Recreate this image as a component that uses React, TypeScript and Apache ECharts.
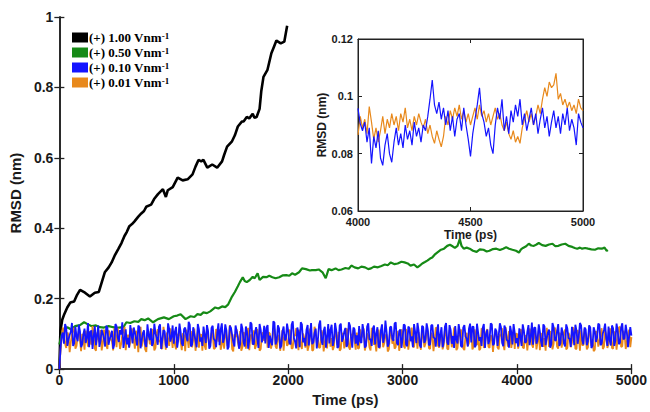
import React, { useEffect, useRef } from "react";
import * as echarts from "echarts";

// ---- data ----
const legendNames = ["(+) 1.00 Vnm", "(+) 0.50 Vnm", "(+) 0.10 Vnm", "(+) 0.01 Vnm"];

const blackT = [0, 9, 25, 43, 69, 95, 129, 155, 181, 224, 267, 310, 345, 371, 397, 431, 457, 483, 517, 543, 569, 590, 612, 635, 655, 690, 716, 740, 759, 802, 828, 862, 905, 931, 948, 991, 1034, 1078, 1121, 1164, 1190, 1216, 1240, 1259, 1293, 1336, 1379, 1422, 1440, 1466, 1509, 1534, 1560, 1595, 1610, 1638, 1660, 1690, 1705, 1724, 1750, 1765, 1784, 1819, 1853, 1875, 1897, 1935, 1966, 1980, 1991];
const blackV = [0, 0.108, 0.14, 0.156, 0.175, 0.189, 0.192, 0.211, 0.225, 0.217, 0.206, 0.217, 0.219, 0.247, 0.275, 0.289, 0.303, 0.322, 0.342, 0.358, 0.378, 0.39, 0.406, 0.412, 0.419, 0.433, 0.442, 0.449, 0.461, 0.467, 0.483, 0.497, 0.511, 0.489, 0.508, 0.517, 0.544, 0.536, 0.539, 0.553, 0.575, 0.594, 0.59, 0.594, 0.572, 0.581, 0.572, 0.59, 0.608, 0.632, 0.647, 0.664, 0.689, 0.703, 0.703, 0.716, 0.712, 0.725, 0.714, 0.716, 0.739, 0.79, 0.83, 0.85, 0.897, 0.915, 0.933, 0.925, 0.93, 0.955, 0.975];

const greenT = [0, 26, 69, 100, 138, 180, 216, 250, 284, 320, 353, 390, 431, 470, 500, 560, 586, 620, 655, 690, 716, 745, 776, 819, 862, 914, 957, 1000, 1030, 1060, 1103, 1147, 1180, 1207, 1235, 1259, 1290, 1319, 1362, 1390, 1422, 1450, 1474, 1509, 1534, 1560, 1578, 1603, 1620, 1638, 1664, 1690, 1707, 1733, 1750, 1780, 1810, 1835, 1862, 1890, 1922, 1950, 1983, 2010, 2034, 2060, 2095, 2121, 2155, 2190, 2207, 2241, 2267, 2300, 2328, 2353, 2379, 2414, 2440, 2466, 2500, 2530, 2552, 2580, 2612, 2640, 2672, 2700, 2724, 2750, 2784, 2815, 2845, 2870, 2897, 2930, 2957, 2990, 3017, 3045, 3069, 3100, 3129, 3150, 3172, 3195, 3216, 3240, 3259, 3280, 3302, 3330, 3362, 3390, 3414, 3440, 3457, 3480, 3500, 3515, 3534, 3560, 3586, 3615, 3647, 3675, 3707, 3735, 3759, 3790, 3819, 3850, 3879, 3905, 3931, 3960, 3991, 4017, 4035, 4052, 4080, 4103, 4125, 4147, 4170, 4190, 4220, 4250, 4280, 4310, 4335, 4362, 4390, 4422, 4450, 4483, 4505, 4526, 4550, 4569, 4595, 4621, 4650, 4681, 4710, 4741, 4765, 4784, 4795];
const greenV = [0.07, 0.106, 0.119, 0.113, 0.122, 0.125, 0.133, 0.127, 0.122, 0.124, 0.119, 0.118, 0.122, 0.119, 0.117, 0.119, 0.133, 0.131, 0.136, 0.134, 0.142, 0.139, 0.144, 0.133, 0.142, 0.147, 0.142, 0.15, 0.152, 0.156, 0.142, 0.15, 0.148, 0.156, 0.154, 0.161, 0.159, 0.164, 0.175, 0.172, 0.178, 0.176, 0.183, 0.206, 0.219, 0.235, 0.247, 0.261, 0.25, 0.247, 0.253, 0.262, 0.258, 0.272, 0.253, 0.262, 0.261, 0.265, 0.261, 0.258, 0.261, 0.266, 0.267, 0.265, 0.272, 0.268, 0.275, 0.286, 0.284, 0.28, 0.281, 0.281, 0.283, 0.275, 0.258, 0.284, 0.281, 0.286, 0.281, 0.283, 0.287, 0.285, 0.294, 0.289, 0.286, 0.291, 0.289, 0.284, 0.286, 0.291, 0.289, 0.293, 0.297, 0.295, 0.303, 0.298, 0.3, 0.305, 0.303, 0.3, 0.294, 0.297, 0.289, 0.294, 0.3, 0.304, 0.308, 0.314, 0.317, 0.325, 0.331, 0.338, 0.342, 0.35, 0.353, 0.348, 0.344, 0.35, 0.369, 0.35, 0.342, 0.345, 0.342, 0.336, 0.333, 0.34, 0.339, 0.334, 0.336, 0.341, 0.342, 0.338, 0.342, 0.346, 0.342, 0.339, 0.336, 0.331, 0.34, 0.344, 0.349, 0.356, 0.351, 0.35, 0.354, 0.358, 0.352, 0.35, 0.354, 0.356, 0.349, 0.35, 0.354, 0.356, 0.35, 0.347, 0.344, 0.342, 0.345, 0.342, 0.344, 0.342, 0.34, 0.339, 0.343, 0.342, 0.345, 0.336, 0.338];

// main-panel noisy traces, values in 0.001 nm.
// "Even" arrays: t = 0, 20, 40, ... 5000 ; "odd" arrays: t = 10, 30, ... 4990
const mainStep = 20;
const blueMainEven = [
  0, 95, 72, 118, 84, 106, 66, 121, 79, 108,
  71, 115, 88, 62, 110, 93, 68, 124, 80, 101,
  64, 117, 86, 109, 70, 122, 77, 98, 60, 113,
  89, 125, 73, 104, 67, 119, 82, 110, 63, 96,
  116, 75, 102, 69, 127, 84, 107, 61, 114, 91,
  72, 120, 85, 105, 66, 118, 79, 126, 70, 99,
  62, 113, 90, 121, 74, 108, 65, 123, 81, 103,
  68, 130, 87, 110, 63, 117, 76, 124, 92, 71,
  115, 64, 106, 83, 128, 70, 119, 60, 111, 88,
  73, 125, 95, 68, 132, 80, 116, 66, 121, 85,
  109, 70, 136, 78, 118, 62, 127, 89, 112, 67,
  131, 76, 115, 84, 138, 69, 120, 92, 73, 126,
  82, 110, 64, 129, 88, 117, 71, 124, 61, 113,
  96, 122, 74, 108, 66, 130, 85, 115, 70, 119,
  63, 127, 90, 105, 72, 121, 80, 133, 68, 112,
  86, 124, 65, 116, 93, 128, 74, 109, 61, 120,
  83, 113, 70, 126, 88, 104, 64, 119, 78, 131,
  69, 111, 94, 122, 73, 107, 62, 125, 86, 115,
  76, 120, 67, 104, 91, 117, 60, 112, 83, 127,
  72, 108, 95, 119, 65, 114, 80, 123, 70, 103,
  88, 116, 66, 110, 77, 125, 92, 69, 118, 84,
  106, 63, 121, 89, 112, 71, 119, 81, 128, 74,
  102, 64, 115, 86, 120, 68, 109, 93, 124, 70,
  113, 79, 118, 66, 107, 90, 126, 72, 111, 85,
  121, 67, 116, 82, 110, 75, 130, 88, 104, 92,
  95,
];
const blueMainOdd = [
  58, 104, 128, 66, 97, 131, 74, 92, 126, 62,
  99, 74, 131, 105, 57, 122, 96, 63, 112, 86,
  123, 69, 95, 58, 128, 90, 111, 133, 84, 70,
  61, 100, 118, 86, 124, 59, 102, 71, 127, 82,
  66, 129, 88, 120, 57, 111, 69, 130, 78, 124,
  106, 61, 129, 73, 114, 92, 134, 64, 119, 81,
  128, 78, 66, 97, 125, 58, 117, 86, 62, 130,
  112, 75, 127, 56, 123, 97, 64, 108, 58, 129,
  76, 121, 58, 133, 72, 104, 87, 128, 76, 123,
  117, 60, 78, 136, 70, 124, 59, 107, 82, 129,
  74, 126, 88, 59, 104, 133, 76, 65, 125, 93,
  71, 102, 59, 126, 82, 109, 61, 128, 112, 66,
  131, 60, 124, 78, 106, 63, 133, 87, 118, 72,
  67, 78, 128, 61, 121, 84, 66, 124, 101, 62,
  110, 75, 138, 64, 119, 86, 129, 74, 108, 60,
  127, 70, 121, 79, 62, 104, 131, 68, 123, 74,
  130, 68, 124, 89, 64, 127, 98, 62, 121, 76,
  125, 72, 60, 83, 128, 66, 118, 93, 64, 129,
  121, 62, 129, 80, 66, 128, 99, 71, 130, 68,
  115, 66, 130, 74, 124, 83, 61, 105, 128, 74,
  64, 91, 127, 75, 106, 68, 132, 118, 72, 127,
  79, 127, 68, 104, 61, 131, 82, 107, 66, 118,
  73, 127, 88, 63, 103, 126, 72, 131, 82, 118,
  68, 124, 60, 119, 77, 129, 68, 101, 129, 66,
  82, 124, 66, 129, 71, 118, 84, 126, 62, 119,
];
const orangeMainEven = [
  0, 88, 104, 60, 97, 75, 112, 58, 93, 81,
  100, 55, 90, 108, 69, 96, 52, 87, 111, 73,
  94, 57, 103, 79, 116, 62, 92, 71, 106, 54,
  98, 76, 110, 58, 89, 101, 64, 95, 49, 107,
  72, 99, 60, 113, 83, 57, 96, 104, 66, 91,
  109, 56, 94, 78, 102, 51, 88, 97, 62, 115,
  80, 61, 99, 107, 55, 93, 74, 103, 59, 96,
  112, 70, 58, 95, 84, 105, 50, 91, 76, 108,
  63, 100, 82, 54, 97, 110, 68, 92, 57, 104,
  86, 61, 101, 75, 114, 58, 95, 83, 52, 99,
  71, 106, 60, 94, 80, 112, 57, 90, 103, 66,
  97, 55, 108, 83, 62, 100, 76, 59, 111, 88,
  64, 98, 106, 57, 93, 72, 109, 55, 96, 81,
  104, 60, 89, 115, 67, 95, 53, 101, 78, 92,
  58, 107, 74, 99, 56, 111, 85, 63, 97, 70,
  102, 59, 93, 80, 118, 62, 90, 105, 55, 96,
  73, 108, 57, 94, 83, 116, 61, 98, 69, 104,
  56, 99, 78, 112, 60, 95, 86, 54, 103, 74,
  109, 63, 92, 101, 58, 97, 76, 114, 60, 90,
  83, 105, 56, 94, 71, 119, 64, 99, 82, 57,
  100, 74, 110, 59, 93, 85, 106, 61, 97, 78,
  54, 102, 88, 117, 63, 95, 72, 108, 58, 99,
  81, 112, 60, 96, 75, 104, 57, 93, 110, 68,
  98, 62, 107, 84, 55, 101, 79, 116, 63, 94,
  72, 109, 58, 97, 86, 120, 65, 100, 77, 112,
  91,
];
const orangeMainOdd = [
  55, 118, 72, 104, 48, 99, 117, 66, 108, 51,
  86, 109, 64, 80, 122, 58, 104, 76, 53, 112,
  68, 110, 84, 53, 96, 117, 57, 99, 120, 80,
  62, 115, 84, 109, 48, 120, 85, 56, 104, 72,
  114, 53, 101, 77, 61, 120, 55, 84, 116, 60,
  70, 100, 118, 54, 95, 112, 60, 108, 84, 52,
  108, 96, 52, 66, 119, 70, 102, 57, 114, 78,
  55, 98, 112, 66, 125, 57, 99, 113, 62, 52,
  105, 58, 117, 96, 69, 57, 114, 52, 99, 80,
  110, 104, 58, 116, 64, 96, 52, 111, 91, 66,
  112, 58, 98, 116, 54, 70, 101, 61, 52, 115,
  52, 120, 74, 60, 110, 50, 97, 113, 64, 54,
  110, 68, 52, 103, 59, 116, 63, 99, 112, 55,
  58, 113, 96, 53, 101, 62, 117, 69, 50, 112,
  109, 62, 95, 50, 104, 72, 58, 108, 52, 113,
  66, 114, 55, 98, 64, 96, 58, 74, 111, 62,
  112, 60, 103, 51, 118, 66, 93, 56, 112, 58,
  110, 62, 118, 54, 96, 113, 59, 97, 66, 112,
  56, 113, 68, 54, 116, 60, 105, 64, 96, 49,
  110, 61, 98, 116, 54, 92, 108, 60, 112, 101,
  58, 113, 62, 96, 53, 115, 70, 104, 56, 110,
  97, 63, 52, 95, 108, 56, 118, 64, 103, 61,
  104, 56, 103, 62, 119, 58, 111, 52, 68, 114,
  56, 112, 66, 51, 108, 64, 97, 57, 110, 60,
  116, 60, 107, 55, 118, 63, 109, 57, 96, 62,
];

// inset traces 4000-5000 ps, every 10 ps, values in 0.0001 nm
const insetStart = 4000;
const insetStep = 10;
const blueInset = [
  958, 905, 880, 910, 840, 890, 766, 860, 820, 880,
  785, 759, 830, 870, 800, 770, 840, 890, 830, 870,
  820, 900, 850, 880, 830, 910, 860, 890, 840, 900,
  880, 930, 990, 1057, 970, 940, 980, 920, 960, 900,
  950, 880, 930, 860, 920, 940, 880, 960, 900, 850,
  790, 870, 920, 970, 1030, 940, 910, 860, 890, 830,
  800, 900, 960, 920, 990, 880, 930, 870, 950, 910,
  970, 930, 990, 900, 940, 880, 920, 960, 900, 940,
  870, 920, 960, 890, 930, 860, 910, 950, 890, 930,
  870, 940, 900, 960, 880, 920, 890, 830, 940, 910,
  890,
];
const orangeInset = [
  865, 930, 890, 920, 870, 964, 910, 850, 890, 840,
  880, 930, 870, 920, 890, 940, 900, 930, 880, 940,
  910, 960, 890, 920, 880, 930, 900, 940, 910, 890,
  920, 870, 900, 860, 836, 880, 850, 824, 860, 930,
  900, 950, 920, 960, 930, 970, 920, 950, 910, 940,
  900, 930, 960, 920, 970, 930, 950, 910, 940, 900,
  930, 960, 920, 940, 900, 880, 910, 870, 850, 880,
  840, 860, 836, 890, 920, 950, 910, 940, 900, 930,
  970, 940, 990, 1030, 1000, 1050, 1030, 1040, 1080, 990,
  1010, 970, 990, 960, 980, 950, 970, 940, 990, 960,
  950,
];

const colors = { black: "#000000", green: "#168a16", blue: "#1414ff", orange: "#e8891c" };
const SANS = "Liberation Sans, Arial, sans-serif";
const SERIF = "Liberation Serif, Times New Roman, serif";

function pairs(t: number[], v: number[]) {
  return t.map((x, i) => [x, v[i]]);
}
function stepped(start: number, step: number, v: number[], scale: number) {
  return v.map((y, i) => [start + i * step, y / scale]);
}
function interleave(even: number[], odd: number[], step: number, scale: number) {
  const out: number[][] = [];
  even.forEach((y, i) => {
    out.push([i * step, y / scale]);
    if (i < odd.length) out.push([i * step + step / 2, odd[i] / scale]);
  });
  return out;
}
const plain = (v: number) => String(Math.round(v * 1000) / 1000);

export default function App() {
  const ref = useRef<HTMLDivElement>(null);
  useEffect(() => {
    const chart = echarts.init(ref.current!, null, { renderer: "svg" });
    const axisCol = "#222";
    const tick = { inside: true, length: 5, lineStyle: { color: axisCol, width: 1.3 } };
    const line = { lineStyle: { color: axisCol, width: 1.6 } };
    const mainLabel = { fontSize: 14, fontWeight: "bold", color: "#1a1a1a", fontFamily: SANS, formatter: plain };
    const insetLabel = { fontSize: 11, fontWeight: "bold", color: "#1a1a1a", fontFamily: SANS, formatter: plain };
    const insetLine = { lineStyle: { color: axisCol, width: 1 } };
    const insetTick = { inside: true, length: 4, lineStyle: { color: axisCol } };
    const option: any = {
      animation: false,
      backgroundColor: "#ffffff",
      grid: [
        { left: 57, right: 15, top: 17, bottom: 36 },
        { left: 358, top: 39, width: 225, height: 172, show: true, backgroundColor: "#ffffff", borderColor: axisCol, borderWidth: 1 },
      ],
      legend: {
        data: legendNames,
        orient: "vertical",
        left: 72,
        top: 31,
        padding: 0,
        itemGap: 2,
        itemWidth: 16,
        itemHeight: 10,
        icon: "rect",
        formatter: (name: string) => `{b|${name}}{s|-1}`,
        textStyle: {
          rich: {
            b: { fontFamily: SERIF, fontWeight: "bold", fontSize: 13, color: "#000", lineHeight: 13, padding: [0, 0, 0, -4] },
            s: { fontFamily: SERIF, fontWeight: "bold", fontSize: 9, color: "#000", lineHeight: 13, verticalAlign: "top" },
          },
        },
      },
      xAxis: [
        {
          gridIndex: 0, type: "value", min: 0, max: 5000, interval: 1000, position: "bottom",
          name: "Time (ps)", nameLocation: "middle", nameGap: 22,
          nameTextStyle: { fontSize: 15, fontWeight: "bold", color: "#1a1a1a", fontFamily: SANS },
          axisLine: line, axisTick: tick, axisLabel: { ...mainLabel, margin: 4 }, splitLine: { show: false },
        },
        {
          gridIndex: 0, type: "value", min: 0, max: 5000, interval: 1000, position: "top",
          axisLine: line, axisTick: tick, axisLabel: { show: false }, splitLine: { show: false },
        },
        {
          gridIndex: 1, type: "value", min: 4000, max: 5000, interval: 500, position: "bottom",
          name: "Time (ps)", nameLocation: "middle", nameGap: 18,
          nameTextStyle: { fontSize: 12, fontWeight: "bold", color: "#1a1a1a", fontFamily: SANS },
          axisLine: insetLine, axisTick: insetTick,
          axisLabel: { ...insetLabel, margin: 5 }, splitLine: { show: false },
        },
        {
          gridIndex: 1, type: "value", min: 4000, max: 5000, interval: 500, position: "top",
          axisLine: insetLine, axisTick: insetTick, axisLabel: { show: false }, splitLine: { show: false },
        },
      ],
      yAxis: [
        {
          gridIndex: 0, type: "value", min: 0, max: 1, interval: 0.2, position: "left",
          name: "RMSD (nm)", nameLocation: "middle", nameGap: 32, nameRotate: 90,
          nameTextStyle: { fontSize: 15, fontWeight: "bold", color: "#1a1a1a", fontFamily: SANS },
          axisLine: line, axisTick: tick, axisLabel: { ...mainLabel, margin: 6 }, splitLine: { show: false },
        },
        {
          gridIndex: 0, type: "value", min: 0, max: 1, interval: 0.2, position: "right",
          axisLine: line, axisTick: tick, axisLabel: { show: false }, splitLine: { show: false },
        },
        {
          gridIndex: 1, type: "value", min: 0.06, max: 0.12, interval: 0.02, position: "left",
          name: "RMSD (nm)", nameLocation: "middle", nameGap: 28, nameRotate: 90,
          nameTextStyle: { fontSize: 12, fontWeight: "bold", color: "#1a1a1a", fontFamily: SANS },
          axisLine: insetLine, axisTick: insetTick,
          axisLabel: { ...insetLabel, margin: 5 }, splitLine: { show: false },
        },
        {
          gridIndex: 1, type: "value", min: 0.06, max: 0.12, interval: 0.02, position: "right",
          axisLine: insetLine, axisTick: insetTick, axisLabel: { show: false }, splitLine: { show: false },
        },
      ],
      series: [
        {
          name: legendNames[0], type: "line", xAxisIndex: 0, yAxisIndex: 0, showSymbol: false, symbol: "none",
          data: pairs(blackT, blackV), color: colors.black, lineStyle: { width: 2.6, color: colors.black },
        },
        {
          name: legendNames[1], type: "line", xAxisIndex: 0, yAxisIndex: 0, showSymbol: false, symbol: "none",
          data: pairs(greenT, greenV), color: colors.green, lineStyle: { width: 2.2, color: colors.green },
        },
        {
          name: legendNames[3], type: "line", xAxisIndex: 0, yAxisIndex: 0, showSymbol: false, symbol: "none",
          data: interleave(orangeMainEven, orangeMainOdd, mainStep, 1000), color: colors.orange, lineStyle: { width: 1.8, color: colors.orange },
        },
        {
          name: legendNames[2], type: "line", xAxisIndex: 0, yAxisIndex: 0, showSymbol: false, symbol: "none",
          data: interleave(blueMainEven, blueMainOdd, mainStep, 1000), color: colors.blue, lineStyle: { width: 1.8, color: colors.blue },
        },
        {
          name: legendNames[3], type: "line", xAxisIndex: 2, yAxisIndex: 2, showSymbol: false, symbol: "none",
          data: stepped(insetStart, insetStep, orangeInset, 10000), color: colors.orange, lineStyle: { width: 1.2, color: colors.orange },
        },
        {
          name: legendNames[2], type: "line", xAxisIndex: 2, yAxisIndex: 2, showSymbol: false, symbol: "none",
          data: stepped(insetStart, insetStep, blueInset, 10000), color: colors.blue, lineStyle: { width: 1.2, color: colors.blue },
        },
      ],
    };
    chart.setOption(option);
    return () => chart.dispose();
  }, []);
  return <div ref={ref} style={{ width: 650, height: 412, position: "absolute", left: 0, top: 0 }} />;
}
